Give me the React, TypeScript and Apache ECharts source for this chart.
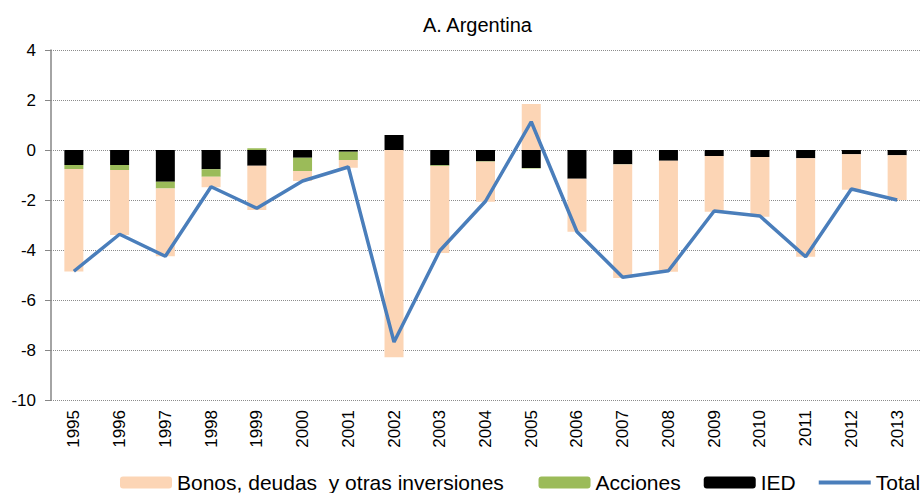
import React, { useEffect, useRef } from "react";
import * as echarts from "echarts";

const years = ["1995","1996","1997","1998","1999","2000","2001","2002","2003","2004","2005","2006","2007","2008","2009","2010","2011","2012","2013"];
const ied = [-0.6, -0.6, -1.27, -0.77, -0.63, -0.31, -0.07, 0.6, -0.61, -0.45, -0.72, -1.15, -0.57, -0.43, -0.24, -0.28, -0.33, -0.17, -0.21];
const acciones = [-0.16, -0.2, -0.27, -0.3, 0.07, -0.53, -0.33, 0, -0.03, -0.02, -0.02, 0, -0.01, 0, 0, 0, 0, 0, 0];
const bonos = [-4.1, -2.6, -2.71, -0.42, -1.77, -0.4, -0.31, -8.29, -3.48, -1.6, 1.84, -2.12, -4.54, -4.44, -2.23, -2.39, -3.94, -1.42, -1.79];
const total = [-4.85, -3.37, -4.25, -1.47, -2.33, -1.24, -0.68, -7.68, -4.03, -2.05, 1.13, -3.27, -5.09, -4.83, -2.44, -2.64, -4.27, -1.56, -2.0];

const FONT = "'Liberation Sans', Arial, sans-serif";
const BONOS = "Bonos, deudas  y otras inversiones";

export default function App() {
  const ref = useRef<HTMLDivElement>(null);
  useEffect(() => {
    if (!ref.current) return;
    const chart = echarts.init(ref.current, undefined, { renderer: "svg" });
    chart.setOption({
      animation: false,
      backgroundColor: "#ffffff",
      textStyle: { fontFamily: FONT },
      title: {
        text: "A. Argentina",
        left: 418,
        top: 10,
        textStyle: { fontFamily: FONT, fontSize: 20, fontWeight: "normal", color: "#000" },
      },
      legend: {
        data: [
          BONOS,
          "Acciones",
          "IED",
          { name: "Total", icon: "path://M0,0L52,0L52,4L0,4Z" },
        ],
        formatter: (name: string) => (name === BONOS ? name + "  " : name),
        left: 120,
        top: 472,
        width: 1000,
        padding: 0,
        itemWidth: 52,
        itemHeight: 12,
        itemGap: 23,
        textStyle: { fontFamily: FONT, fontSize: 21, color: "#000" },
      },
      grid: { left: 51, right: -14.5, top: 50, bottom: 93, containLabel: false },
      xAxis: {
        type: "category",
        data: years,
        boundaryGap: true,
        axisLine: { show: false, onZero: false },
        axisTick: { show: false },
        axisLabel: { rotate: 90, margin: 10, fontFamily: FONT, fontSize: 17, color: "#000" },
      },
      yAxis: {
        type: "value",
        min: -10,
        max: 4,
        interval: 2,
        axisLine: { show: true, lineStyle: { color: "#868686", width: 1.5 } },
        axisTick: { show: true, length: 6, lineStyle: { color: "#868686" } },
        axisLabel: { margin: 15, fontFamily: FONT, fontSize: 17, color: "#000" },
        splitLine: { show: true, lineStyle: { type: "dotted", color: "#8c8c8c", width: 1 } },
      },
      series: [
        {
          name: "IED",
          type: "bar",
          stack: "a",
          data: ied,
          barWidth: 19,
          itemStyle: { color: "#000000" },
        },
        {
          name: "Acciones",
          type: "bar",
          stack: "a",
          data: acciones,
          barWidth: 19,
          itemStyle: { color: "#9BBB59" },
        },
        {
          name: BONOS,
          type: "bar",
          stack: "a",
          data: bonos,
          barWidth: 19,
          itemStyle: { color: "#FCD5B5" },
        },
        {
          name: "Total",
          type: "line",
          data: total,
          symbol: "none",
          lineStyle: { color: "#4A7EBB", width: 3.5 },
          itemStyle: { color: "#4A7EBB" },
          z: 5,
        },
      ],
    });
    return () => chart.dispose();
  }, []);
  return (
    <div
      ref={ref}
      style={{ position: "fixed", left: 0, top: 0, width: 920, height: 493 }}
    />
  );
}
